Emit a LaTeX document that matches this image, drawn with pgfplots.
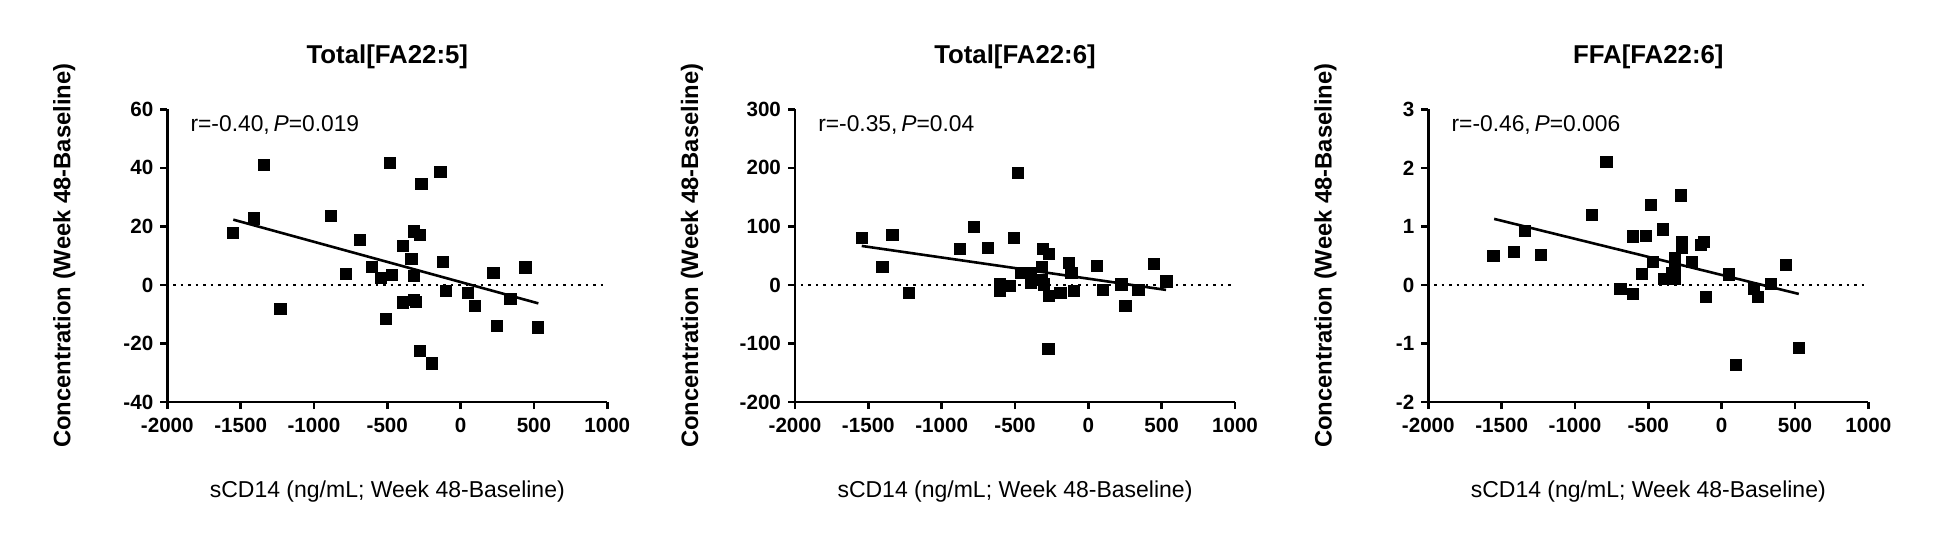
\documentclass[border=0pt]{standalone}
\usepackage{fontspec}
\setmainfont{Liberation Sans}
\usepackage{pgfplots}
\pgfplotsset{compat=1.18}

\pgfplotsset{
  gp/.style={
    scale only axis, width=220pt, height=146.35pt,
    axis lines*=left, clip=false,
    axis line style={line width=1.25pt},
    every tick/.style={line width=1.25pt, black},
    major tick length=3.5pt, tick align=outside,
    xmin=-2000, xmax=1000, xtick={-2000,-1500,...,1000},
    /pgf/number format/assume math mode=true,
    /pgf/number format/1000 sep={},
    ticklabel style={font=\bfseries\fontsize{10.3}{12}\selectfont},
    xticklabel style={yshift=-1pt},
    title style={at={(axis description cs:0.5,1.14)}, anchor=center,
      font=\bfseries\fontsize{12.9}{15}\selectfont},
    every axis y label/.style={at={(axis description cs:-0.234,0.5)},
      rotate=90, anchor=center, font=\bfseries\fontsize{11.9}{14}\selectfont},
    every axis x label/.style={at={(axis description cs:0.5,-0.3075)},
      anchor=center, font=\fontsize{11.5}{13}\selectfont},
    xlabel={sCD14 (ng/mL; Week 48-Baseline)},
    ylabel={Concentration (Week 48-Baseline)},
  },
  pts/.style={only marks, mark=square*, mark size=2.8pt, black},
  fit/.style={no marks, black, line width=1.3pt},
  zero/.style={no marks, black, line width=1.2pt, dash pattern=on 1.2pt off 2.55pt},
}

\newcommand{\rp}[1]{\node[anchor=west, inner sep=0pt, font=\fontsize{11.4}{13}\selectfont]
  at (axis description cs:0.052,0.946) {#1};}

\begin{document}
\begin{tikzpicture}
\path[use as bounding box] (0,0) rectangle (979.5pt,-276pt);

% Total[FA22:5]
\begin{axis}[gp, at={(83.65pt,-201pt)}, anchor=south west,
  title={Total[FA22:5]}, ymin=-40, ymax=60, ytick={-40,-20,...,60}]
\addplot[zero] coordinates {(-1960,0) (1000,0)};
\addplot[fit] coordinates {(-1550,22.3) (530,-6.3)};
\addplot[pts] coordinates {
 (-1550,17.7) (-1409,22.7) (-1339,40.9) (-1229,-8.1) (-882,23.5) (-784,3.9)
 (-689,15.3) (-607,6.2) (-541,2.5) (-511,-11.7) (-482,41.8) (-466,3.4)
 (-395,-6.0) (-393,13.3) (-336,8.9) (-320,18.3) (-318,3.2) (-318,-5.1)
 (-305,-5.8) (-277,17.1) (-268,34.4) (-277,-22.6) (-198,-26.8) (-138,38.6)
 (-123,7.9) (-102,-2.1) (50,-2.7) (96,-7.3) (223,4.2) (246,-14.1)
 (339,-4.7) (441,6.0) (527,-14.5)};
\rp{r=-0.40,\,\textit{P}=0.019}
\end{axis}

% Total[FA22:6]
\begin{axis}[gp, at={(397.5pt,-201pt)}, anchor=south west,
  title={Total[FA22:6]}, ymin=-200, ymax=300, ytick={-200,-100,...,300}]
\addplot[zero] coordinates {(-1960,0) (1000,0)};
\addplot[fit] coordinates {(-1545,66.6) (530,-8.5)};
\addplot[pts] coordinates {
 (-1545,81) (-1404,31) (-1336,86) (-1224,-14) (-878,62) (-778,99)
 (-683,63) (-601,1) (-601,-10) (-537,-1) (-510,81) (-478,191)
 (-460,20) (-392,20) (-392,3) (-316,31) (-316,9) (-305,1)
 (-310,62) (-267,53) (-267,-19) (-273,-109) (-190,-13) (-130,37)
 (-116,20) (-100,-10) (56,33) (100,-8) (225,1) (252,-36)
 (341,-9) (446,36) (532,6)};
\rp{r=-0.35,\,\textit{P}=0.04}
\end{axis}

% FFA[FA22:6]
\begin{axis}[gp, at={(714.15pt,-201pt)}, anchor=south west,
  title={FFA[FA22:6]}, ymin=-2, ymax=3, ytick={-2,-1,...,3}]
\addplot[zero] coordinates {(-1960,0) (1000,0)};
\addplot[fit] coordinates {(-1551,1.128) (526,-0.154)};
\addplot[pts] coordinates {
 (-1556,0.50) (-1415,0.56) (-1342,0.92) (-1232,0.51) (-886,1.20) (-786,2.10)
 (-690,-0.07) (-606,0.83) (-606,-0.16) (-544,0.19) (-515,0.84) (-485,1.37)
 (-469,0.39) (-399,0.95) (-396,0.10) (-340,0.20) (-321,0.10) (-321,0.28)
 (-321,0.46) (-280,1.53) (-269,0.74) (-269,0.63) (-203,0.40) (-139,0.69)
 (-121,0.74) (-105,-0.21) (50,0.18) (96,-1.37) (221,-0.07) (248,-0.20)
 (335,0.02) (440,0.34) (526,-1.08)};
\rp{r=-0.46,\,\textit{P}=0.006}
\end{axis}
\end{tikzpicture}
\end{document}
